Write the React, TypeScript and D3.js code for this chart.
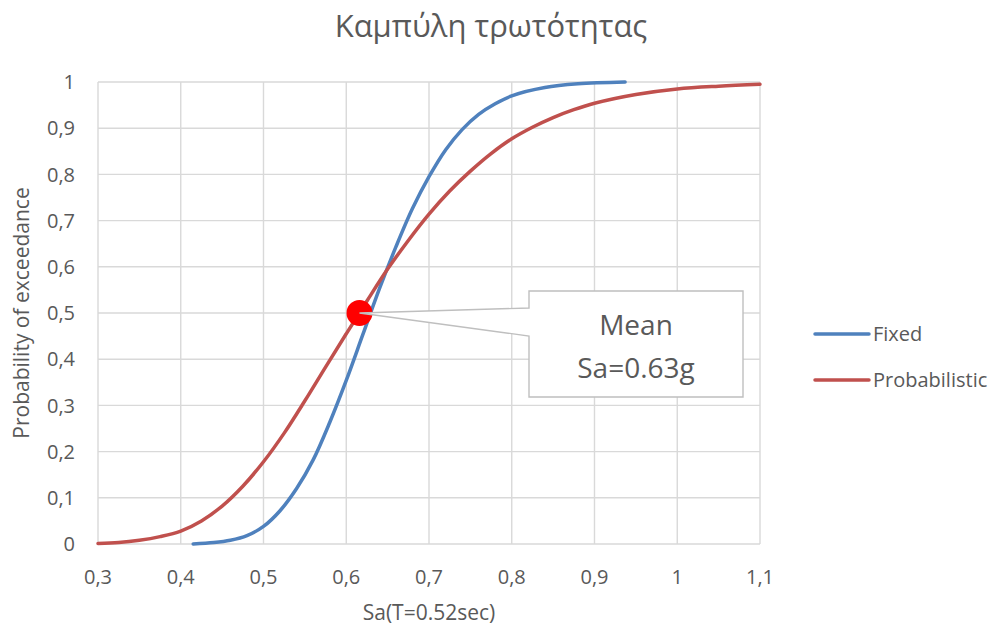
import React from "react";
import * as d3 from "d3";

// Spectral acceleration Sa (g) vs probability of exceedance
const fixedSa = [0.415, 0.44, 0.46, 0.48, 0.5, 0.52, 0.54, 0.56, 0.58, 0.6, 0.62, 0.64, 0.66, 0.68, 0.7, 0.72, 0.74, 0.76, 0.78, 0.8, 0.84, 0.88, 0.937];
const fixedP = [0.0, 0.003, 0.008, 0.018, 0.038, 0.072, 0.12, 0.182, 0.263, 0.354, 0.453, 0.552, 0.643, 0.726, 0.795, 0.853, 0.897, 0.93, 0.953, 0.97, 0.988, 0.996, 1.0];

const probSa = [0.3, 0.325, 0.35, 0.375, 0.4, 0.425, 0.45, 0.475, 0.5, 0.525, 0.55, 0.575, 0.6, 0.625, 0.65, 0.675, 0.7, 0.725, 0.75, 0.775, 0.8, 0.825, 0.85, 0.875, 0.9, 0.95, 1.0, 1.05, 1.1];
const probP = [0.001, 0.003, 0.008, 0.016, 0.028, 0.05, 0.082, 0.125, 0.178, 0.24, 0.31, 0.383, 0.455, 0.526, 0.595, 0.657, 0.714, 0.764, 0.807, 0.845, 0.877, 0.902, 0.923, 0.94, 0.954, 0.973, 0.985, 0.991, 0.995];

const seriesNames = ["Fixed", "Probabilistic"];
const seriesColors = ["#4f81bd", "#c0504d"];

const xTicks = [0.3, 0.4, 0.5, 0.6, 0.7, 0.8, 0.9, 1.0, 1.1];
const yTicks = [0, 0.1, 0.2, 0.3, 0.4, 0.5, 0.6, 0.7, 0.8, 0.9, 1.0];

// Median point of the probabilistic curve, annotated with the mean value
const markerSa = 0.616;
const markerP = 0.5;
const calloutLines = ["Mean", "Sa=0.63g"];

const title = "Καμπύλη τρωτότητας";
const xTitle = "Sa(T=0.52sec)";
const yTitle = "Probability of exceedance";

const W = 995;
const H = 625;
const FONT = "'Open Sans', sans-serif";
const TEXT = "#595959";
const GRID = "#d9d9d9";

const fmt = (v: number) => {
  const s = d3.format("~g")(+v.toFixed(2));
  return s.replace(".", ",");
};

export default function App() {
  const x = d3.scaleLinear().domain([0.3, 1.1]).range([98, 760]);
  const y = d3.scaleLinear().domain([0, 1]).range([544, 82]);

  const line = d3
    .line<[number, number]>()
    .x((d) => x(d[0]))
    .y((d) => y(d[1]))
    .curve(d3.curveCatmullRom.alpha(0.5));

  const fixedPts = fixedSa.map((v, i) => [v, fixedP[i]] as [number, number]);
  const probPts = probSa.map((v, i) => [v, probP[i]] as [number, number]);

  const mx = x(markerSa);
  const my = y(markerP);

  // Callout box with a wedge pointing at the marker
  const bx0 = 529, bx1 = 743, by0 = 291, by1 = 397;
  const callout = [
    [bx0, by0], [bx1, by0], [bx1, by1], [bx0, by1], [bx0, 336], [mx, my], [bx0, 308],
  ].map((p) => p.join(",")).join(" ");

  const plotLeft = x(0.3), plotRight = x(1.1), plotTop = y(1), plotBottom = y(0);

  return (
    <div style={{ position: "absolute", left: 0, top: 0 }}>
      <svg width={W} height={H} style={{ display: "block", background: "#fff" }} fontFamily={FONT}>
        <rect width={W} height={H} fill="#fff" />
        <text x={491} y={37} textAnchor="middle" fontSize={31} fill={TEXT}>{title}</text>

        {/* grid */}
        {yTicks.map((t) => (
          <line key={"gy" + t} x1={plotLeft} x2={plotRight} y1={y(t)} y2={y(t)} stroke={GRID} strokeWidth={1.4} />
        ))}
        {xTicks.map((t) => (
          <line key={"gx" + t} x1={x(t)} x2={x(t)} y1={plotTop} y2={plotBottom} stroke={GRID} strokeWidth={1.4} />
        ))}

        {/* tick labels */}
        {yTicks.map((t) => (
          <text key={"ty" + t} x={75} y={y(t)} dy="0.36em" textAnchor="end" fontSize={20} fill={TEXT}>{fmt(t)}</text>
        ))}
        {xTicks.map((t) => (
          <text key={"tx" + t} x={x(t)} y={584} textAnchor="middle" fontSize={20} fill={TEXT}>{fmt(t)}</text>
        ))}

        <text x={(plotLeft + plotRight) / 2} y={620} textAnchor="middle" fontSize={21} fill={TEXT}>{xTitle}</text>
        <text transform={`translate(29,${(plotTop + plotBottom) / 2}) rotate(-90)`} textAnchor="middle" fontSize={21} fill={TEXT}>{yTitle}</text>

        {/* curves */}
        <path d={line(fixedPts) || ""} fill="none" stroke={seriesColors[0]} strokeWidth={3.5} strokeLinecap="round" />
        <path d={line(probPts) || ""} fill="none" stroke={seriesColors[1]} strokeWidth={3.5} strokeLinecap="round" />

        {/* marker and callout */}
        <circle cx={mx} cy={my} r={13} fill="#ff0000" />
        <polygon points={callout} fill="#fff" stroke="#bfbfbf" strokeWidth={1.4} />
        <text x={(bx0 + bx1) / 2} y={335} textAnchor="middle" fontSize={28} fill={TEXT}>{calloutLines[0]}</text>
        <text x={(bx0 + bx1) / 2} y={378} textAnchor="middle" fontSize={28} fill={TEXT}>{calloutLines[1]}</text>

        {/* legend */}
        {seriesNames.map((n, i) => (
          <g key={n} transform={`translate(815,${334 + i * 46})`}>
            <line x1={0} x2={54} y1={0} y2={0} stroke={seriesColors[i]} strokeWidth={3.5} strokeLinecap="round" />
            <text x={58} y={0} dy="0.36em" fontSize={20} fill={TEXT}>{n}</text>
          </g>
        ))}
      </svg>
    </div>
  );
}
